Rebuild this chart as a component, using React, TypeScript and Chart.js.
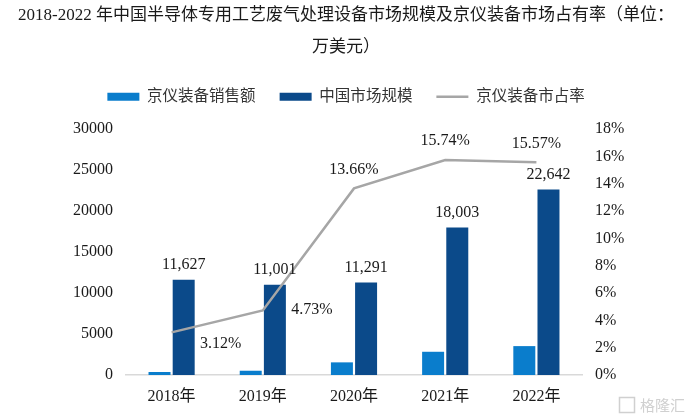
import React, { useEffect, useRef } from "react";
import { Chart, registerables } from "chart.js";

Chart.register(...registerables);

const categories = ["2018年", "2019年", "2020年", "2021年", "2022年"];
const salesValues = [363, 520, 1542, 2834, 3525];
const marketValues = [11627, 11001, 11291, 18003, 22642];
const shareValues = [3.12, 4.73, 13.66, 15.74, 15.57];
const titleLines = [
  "2018-2022 年中国半导体专用工艺废气处理设备市场规模及京仪装备市场占有率（单位：",
  "万美元）",
];
const seriesNames = ["京仪装备销售额", "中国市场规模", "京仪装备市占率"];
// label placement for share labels: "above" or "right"
const shareLabelPlacement = ["right", "right", "above", "above", "above"];

const SERIF = "'Liberation Serif', 'Noto Sans CJK SC', serif";
const LIGHT = "#0A7DCC";
const DARK = "#0B4A8A";
const GREY = "#A6A6A6";

const labelPlugin = {
  id: "valueLabels",
  afterDatasetsDraw(chart: any) {
    const ctx = chart.ctx;
    ctx.save();
    ctx.font = `16px ${SERIF}`;
    ctx.fillStyle = "#1a1a1a";
    ctx.textBaseline = "middle";
    ctx.textAlign = "center";
    const barMeta = chart.getDatasetMeta(1);
    barMeta.data.forEach((el: any, i: number) => {
      ctx.fillText(marketValues[i].toLocaleString("en-US"), el.x, el.y - 15);
    });
    const lineMeta = chart.getDatasetMeta(2);
    lineMeta.data.forEach((el: any, i: number) => {
      const txt = shareValues[i].toFixed(2) + "%";
      if (shareLabelPlacement[i] === "above") {
        ctx.fillText(txt, el.x, el.y - 19);
      } else {
        ctx.fillText(txt, el.x + 49, i === 0 ? el.y + 11 : el.y - 1);
      }
    });
    // watermark
    ctx.font = `15px 'Noto Sans CJK SC', sans-serif`;
    ctx.fillStyle = "#D0D0D0";
    ctx.textAlign = "left";
    ctx.fillText("格隆汇", 640, 405);
    ctx.strokeStyle = "#D0D0D0";
    ctx.lineWidth = 1.5;
    ctx.strokeRect(619.5, 397.5, 15, 15);
    ctx.restore();
  },
};

export default function App() {
  const ref = useRef<HTMLCanvasElement | null>(null);
  useEffect(() => {
    const chart = new Chart(ref.current as HTMLCanvasElement, {
      type: "bar",
      data: {
        labels: categories,
        datasets: [
          {
            type: "bar",
            label: seriesNames[0],
            data: salesValues,
            backgroundColor: LIGHT,
            yAxisID: "y",
            categoryPercentage: 0.53,
            barPercentage: 0.91,
            pointStyle: "rect",
            order: 2,
          } as any,
          {
            type: "bar",
            label: seriesNames[1],
            data: marketValues,
            backgroundColor: DARK,
            yAxisID: "y",
            categoryPercentage: 0.53,
            barPercentage: 0.91,
            pointStyle: "rect",
            order: 2,
          } as any,
          {
            type: "line",
            label: seriesNames[2],
            data: shareValues,
            borderColor: GREY,
            backgroundColor: GREY,
            borderWidth: 2.5,
            pointRadius: 0,
            pointStyle: "line",
            yAxisID: "y1",
            tension: 0,
            order: 1,
          } as any,
        ],
      },
      options: {
        animation: false,
        responsive: false,
        maintainAspectRatio: false,
        layout: { padding: { left: 0, right: 0, top: 0, bottom: 0 } },
        plugins: {
          title: {
            display: true,
            text: titleLines,
            font: { family: SERIF, size: 17, weight: "normal", lineHeight: 1.88 },
            color: "#1a1a1a",
            padding: { top: 0, bottom: 1 },
          },
          subtitle: {
            display: true,
            text: "",
            weight: 0,
            position: "top",
            font: { size: 1, lineHeight: 1 },
            padding: { top: 0, bottom: 13.7 },
          },
          legend: {
            display: true,
            labels: {
              usePointStyle: true,
              pointStyleWidth: 32,
              boxHeight: 8,
              font: { family: SERIF, size: 15.5 },
              color: "#333",
              padding: 24,
              sort: (a: any, b: any) => a.datasetIndex - b.datasetIndex,
            },
          },
          tooltip: { enabled: false },
        },
        scales: {
          x: {
            grid: { display: false, drawTicks: false },
            border: { display: true, color: "#D9D9D9", width: 1.5 },
            ticks: { font: { family: SERIF, size: 16 }, color: "#1a1a1a", padding: 12 },
            afterFit(scale: any) {
              scale.height = 44;
            },
          },
          y: {
            position: "left",
            min: 0,
            max: 30000,
            grid: { display: false, drawTicks: false },
            border: { display: false },
            ticks: {
              stepSize: 5000,
              font: { family: SERIF, size: 16 },
              color: "#1a1a1a",
              padding: 13,
              callback: (v: any) => String(v),
            },
            afterFit(scale: any) {
              scale.width = 126;
            },
          },
          y1: {
            position: "right",
            min: 0,
            max: 18,
            grid: { display: false, drawTicks: false },
            border: { display: false },
            ticks: {
              stepSize: 2,
              font: { family: SERIF, size: 16 },
              color: "#1a1a1a",
              padding: 13,
              callback: (v: any) => v + "%",
            },
            afterFit(scale: any) {
              scale.width = 110;
            },
          },
        },
      } as any,
      plugins: [labelPlugin],
    });
    return () => chart.destroy();
  }, []);
  return (
    <div style={{ position: "fixed", left: 0, top: 0, width: 692, height: 419, background: "#fff" }}>
      <canvas ref={ref} width={692} height={419} style={{ width: 692, height: 419 }} />
    </div>
  );
}
